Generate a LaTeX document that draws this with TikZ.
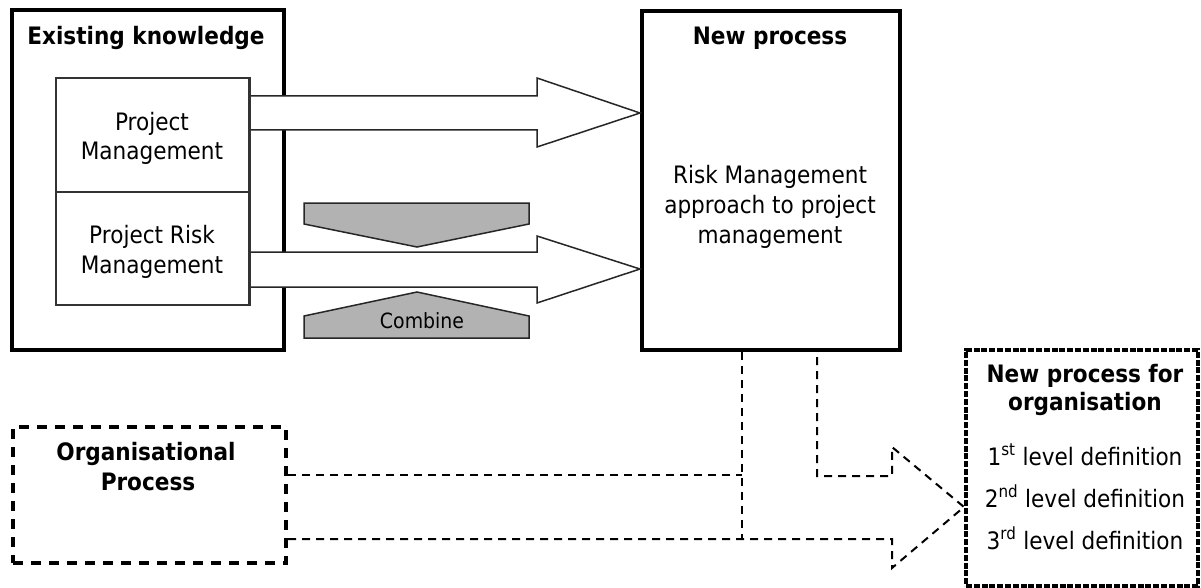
\documentclass[tikz,border=0pt]{standalone}
\usepackage{fontspec}
\setmainfont{DejaVu Sans}[FakeStretch=0.9]
\definecolor{greyfill}{RGB}{178,178,178}
\begin{document}
\begin{tikzpicture}[x=1pt,y=-1pt,
  thickbox/.style={draw=black,line width=4pt,inner sep=0pt},
  thinbox/.style={draw=black!80,line width=1.5pt,inner sep=0pt},
  blockarrow/.style={draw=black!85,line width=1.5pt,fill=white,line join=miter},
  greyshape/.style={draw=black!85,line width=1.5pt,fill=greyfill},
  dashbox/.style={draw=black,line width=4pt,dash pattern=on 10pt off 8pt,inner sep=0pt},
  densebox/.style={draw=black,line width=4pt,dash pattern=on 6pt off 1.8pt,inner sep=0pt},
  dashline/.style={draw=black,line width=2pt,dash pattern=on 8pt off 6pt},
  txt/.style={anchor=base,inner sep=0pt,font=\fontsize{24}{30}\selectfont},
  btxt/.style={anchor=base,inner sep=0pt,font=\fontsize{24}{30}\selectfont\bfseries},
  smalltxt/.style={anchor=base,inner sep=0pt,font=\fontsize{21}{25}\selectfont},
]
\useasboundingbox (0,0) rectangle (1201,588);

% main boxes
\node[thickbox, minimum width=272pt, minimum height=340pt] (ek) at (148,180) {};
\node[thickbox, minimum width=258pt, minimum height=339pt] (np) at (771,180.5) {};
\node[dashbox, minimum width=273pt, minimum height=136pt] (op) at (149.5,495) {};
\node[densebox, minimum width=232pt, minimum height=236pt] (npo) at (1082,468) {};

% inner boxes (placed before arrows so anchors exist)
\node[thinbox, minimum width=193pt, minimum height=114pt] (pm) at (152.5,135) {};
\node[thinbox, minimum width=193pt, minimum height=113pt] (prm) at (152.5,248.5) {};

% block arrows
\draw[blockarrow] (pm.east |- 0,96) -- (537,96) -- (537,78) -- (np.west |- 0,113)
  -- (537,147) -- (537,130) -- (pm.east |- 0,130);
\draw[blockarrow] (prm.east |- 0,252) -- (537,252) -- (537,236) -- (np.west |- 0,269)
  -- (537,303) -- (537,287) -- (prm.east |- 0,287);
\draw[thinbox] (pm.north east) -- (prm.south east);

% combine shapes
\draw[greyshape] (304,203) -- (529,203) -- (529,224) -- (417,247) -- (304,224) -- cycle;
\draw[greyshape] (304,338) -- (529,338) -- (529,316) -- (417,292) -- (304,316) -- cycle;

% dashed connectors
\draw[dashline] (op.east |- 0,475) -- (742,475);
\draw[dashline] (np.south -| 742,0) -- (742,539);
\draw[dashline] (op.east |- 0,539) -- (892,539) -- (892,568) -- (npo.west |- 0,507)
  -- (892,447) -- (892,476) -- (817,476) -- (np.south -| 817,0);

% texts
\node[btxt] (ekT) at (146,45) {Existing knowledge};
\node[txt] (pmA) at (152,131) {Project};
\node[txt] (pmB) at (152,160) {Management};
\node[txt] (prmA) at (152,243) {Project Risk};
\node[txt] (prmB) at (152,273) {Management};
\node[btxt] (npT) at (770,45) {New process};
\node[txt] (npA) at (770,183) {Risk Management};
\node[txt] (npB) at (770,213) {approach to project};
\node[txt] (npC) at (770,243) {management};
\node[smalltxt] (comb) at (422,328) {Combine};
\node[btxt] (opA) at (146,460) {Organisational};
\node[btxt] (opB) at (148,490) {Process};
\node[btxt] (npoA) at (1085,382) {New process for};
\node[btxt] (npoB) at (1085,410) {organisation};
\node[txt] (l1) at (1085,465) {1\textsuperscript{st} level definition};
\node[txt] (l2) at (1085,507) {2\textsuperscript{nd} level definition};
\node[txt] (l3) at (1085,549) {3\textsuperscript{rd} level definition};
\end{tikzpicture}
\end{document}
